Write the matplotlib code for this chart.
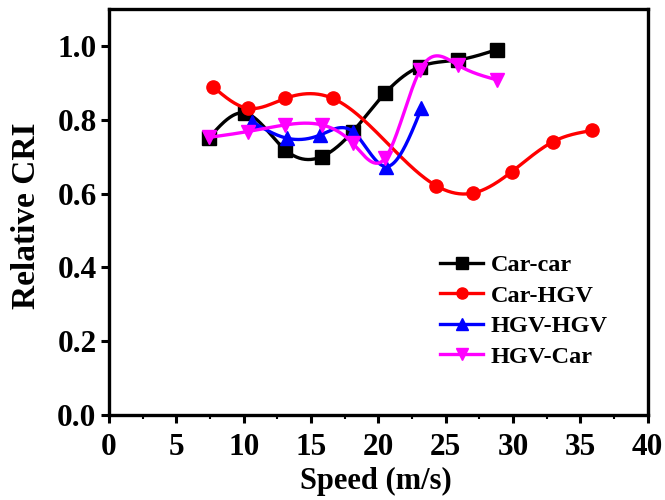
import numpy as np
import matplotlib
matplotlib.use('Agg')
from matplotlib import pyplot as plt
from matplotlib.ticker import MultipleLocator

# speed (m/s) and relative CRI for each following pair
car_car_x = [7.4, 10.1, 13.1, 15.8, 18.1, 20.5, 23.1, 25.9, 28.8]
car_car_y = [0.750, 0.818, 0.718, 0.700, 0.768, 0.872, 0.944, 0.962, 0.990]

car_hgv_x = [7.7, 10.3, 13.1, 16.6, 24.3, 27.0, 29.9, 33.0, 35.9]
car_hgv_y = [0.890, 0.831, 0.858, 0.858, 0.621, 0.601, 0.659, 0.741, 0.771]

hgv_hgv_x = [10.6, 13.2, 15.7, 18.1, 20.6, 23.2]
hgv_hgv_y = [0.795, 0.750, 0.759, 0.768, 0.673, 0.831]

hgv_car_x = [7.4, 10.3, 13.1, 15.8, 18.1, 20.5, 23.1, 25.9, 28.8]
hgv_car_y = [0.752, 0.768, 0.786, 0.786, 0.736, 0.696, 0.935, 0.948, 0.908]

labels = ['Car-car', 'Car-HGV', 'HGV-HGV', 'HGV-Car']
colors = ['black', 'red', 'blue', 'magenta']
markers = ['s', 'o', '^', 'v']


def spline(x, y, n=300):
    # natural cubic spline through the points
    x = np.asarray(x, float)
    y = np.asarray(y, float)
    k = len(x)
    h = np.diff(x)
    A = np.zeros((k, k))
    b = np.zeros(k)
    A[0, 0] = A[-1, -1] = 1
    for i in range(1, k - 1):
        A[i, i - 1] = h[i - 1]
        A[i, i] = 2 * (h[i - 1] + h[i])
        A[i, i + 1] = h[i]
        b[i] = 6 * ((y[i + 1] - y[i]) / h[i] - (y[i] - y[i - 1]) / h[i - 1])
    m = np.linalg.solve(A, b)
    xs = np.linspace(x[0], x[-1], n)
    idx = np.clip(np.searchsorted(x, xs) - 1, 0, k - 2)
    x0, x1 = x[idx], x[idx + 1]
    hh = x1 - x0
    t0 = x1 - xs
    t1 = xs - x0
    ys = (m[idx] * t0**3 + m[idx + 1] * t1**3) / (6 * hh) \
        + (y[idx] / hh - m[idx] * hh / 6) * t0 \
        + (y[idx + 1] / hh - m[idx + 1] * hh / 6) * t1
    return xs, ys


def main():
    plt.rcParams['font.family'] = 'Liberation Serif'
    plt.rcParams['font.weight'] = 'bold'
    fig = plt.figure(figsize=(6.65, 5), dpi=100)
    ax = fig.add_axes([0.164, 0.17, 0.81, 0.812])

    series = [(car_car_x, car_car_y), (car_hgv_x, car_hgv_y),
              (hgv_hgv_x, hgv_hgv_y), (hgv_car_x, hgv_car_y)]
    for (x, y), lab, c, mk in zip(series, labels, colors, markers):
        xs, ys = spline(x, y)
        ax.plot(xs, ys, color=c, lw=2.4)
        ax.plot(x, y, linestyle='none', marker=mk, color=c, ms=9.5)
        ax.plot([], [], color=c, lw=2.4, marker=mk, ms=8, label=lab)

    ax.set_xlim(0, 40)
    ax.set_ylim(0, 1.1)
    ax.xaxis.set_major_locator(MultipleLocator(5))
    ax.xaxis.set_minor_locator(MultipleLocator(2.5))
    ax.yaxis.set_major_locator(MultipleLocator(0.2))
    ax.yaxis.set_major_formatter(plt.FormatStrFormatter('%.1f'))
    ax.tick_params(which='major', length=6, width=2.2, labelsize=22.5, pad=3)
    ax.tick_params(axis='x', which='major', pad=7)
    ax.tick_params(which='minor', length=3, width=1.5)
    ax.tick_params(axis='y', which='minor', left=False)
    for s in ax.spines.values():
        s.set_linewidth(2.4)

    ax.set_xlabel('Speed (m/s)', fontsize=22, fontweight='bold')
    ax.xaxis.set_label_coords(0.495, -0.128)
    ax.set_ylabel('Relative CRI', fontsize=24, fontweight='bold')
    ax.yaxis.set_label_coords(-0.125, 0.49)

    ax.legend(loc='upper left', bbox_to_anchor=(0.662, 0.492),
              bbox_transform=fig.transFigure, frameon=False,
              prop={'weight': 'bold', 'size': 17.5}, borderpad=0,
              borderaxespad=0, handlelength=1.77, handletextpad=0.3,
              labelspacing=0.35)

    fig.savefig('out.png', dpi=100)


if __name__ == '__main__':
    main()
